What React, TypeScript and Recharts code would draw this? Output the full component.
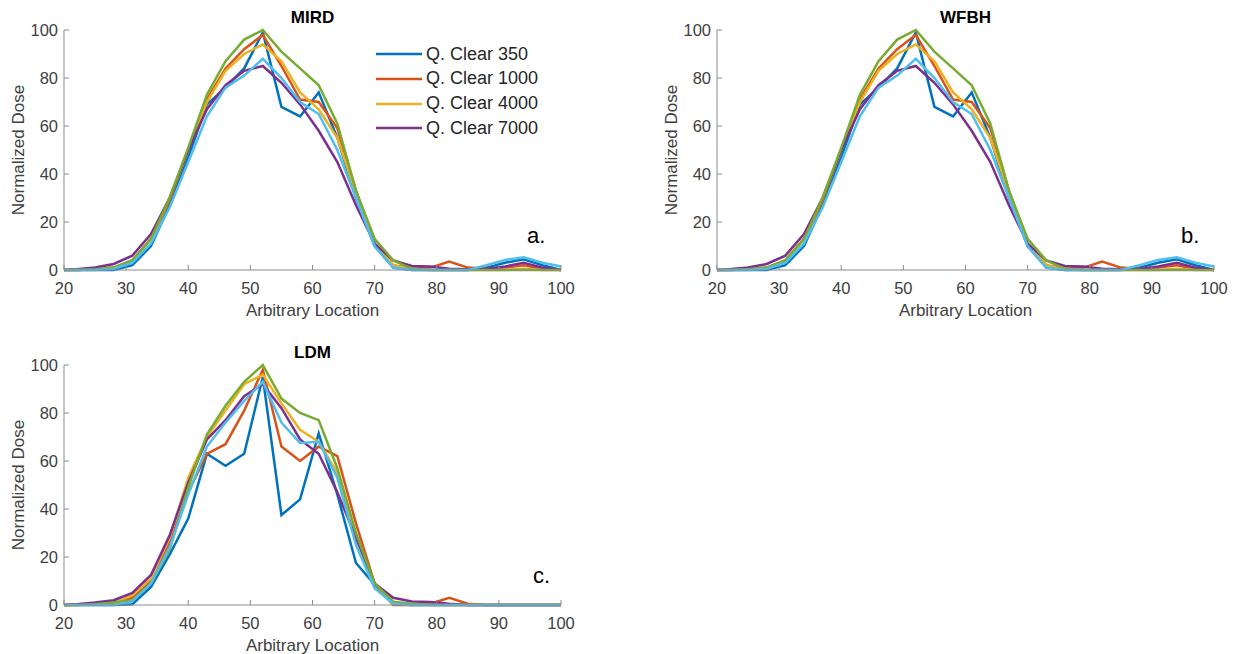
import { LineChart, Line, XAxis, YAxis, Legend } from 'recharts'

const FONT = '"Liberation Sans", Arial, Helvetica, sans-serif'
const AXIS_GRAY = '#8c8c8c'
const TEXT_GRAY = '#404040'

// sample locations (x axis)
const xLocations = [20, 22, 25, 28, 31, 34, 37, 40, 43, 46, 49, 52, 55, 58, 61, 64, 67, 70, 73, 76, 79, 82, 85, 88, 91, 94, 97, 100]
const xTicks = [20, 30, 40, 50, 60, 70, 80, 90, 100]
const yTicks = [0, 20, 40, 60, 80, 100]

// MIRD
const mirdBlue = [0, 0, 0, 0, 2, 10, 27, 47, 69, 76, 84, 99, 68, 64, 74, 55, 30, 10, 1, 0, 0, 0, 0, 1, 3, 4.5, 2, 0]
const mirdOrange = [0, 0, 0.3, 1, 4, 13, 29, 50, 71, 84, 92, 98, 85, 71, 70, 59, 33, 11, 2, 0.5, 1, 3.5, 1, 0.5, 1, 2, 0.5, 0]
const mirdYellow = [0, 0, 0.3, 1, 4, 13, 30, 50, 70, 83, 90, 94, 87, 74, 67, 55, 32, 11, 2, 0.3, 0, 0, 0, 0, 0, 0.5, 0, 0]
const mirdPurple = [0, 0.3, 1, 2.5, 6, 15, 30, 50, 67, 77, 83, 85, 78, 69, 58, 45, 27, 11, 4, 1.7, 1.5, 0.5, 0.3, 0.5, 1.5, 3, 1, 0]
const mirdGreen = [0, 0, 0.3, 1, 4, 13, 30, 51, 73, 87, 96, 100, 91, 84, 77, 61, 33, 13, 4, 0.5, 0, 0, 0, 0, 0, 0, 0, 0]
const mirdLightBlue = [0, 0, 0, 0.5, 3, 11, 26, 45, 64, 76, 81, 88, 80, 70, 65, 50, 30, 10, 1, 0, 0, 0, 0, 2, 4.2, 5.3, 3, 1.5]

// WFBH
const wfbhBlue = [0, 0, 0, 0, 2, 10, 27, 47, 69, 76, 84, 99, 68, 64, 74, 55, 30, 10, 1, 0, 0, 0, 0, 1, 3, 4.5, 2, 0]
const wfbhOrange = [0, 0, 0.3, 1, 4, 13, 29, 50, 71, 84, 92, 98, 85, 71, 70, 59, 33, 11, 2, 0.5, 1, 3.5, 1, 0.5, 1, 2, 0.5, 0]
const wfbhYellow = [0, 0, 0.3, 1, 4, 13, 30, 50, 70, 83, 90, 94, 87, 74, 67, 55, 32, 11, 2, 0.3, 0, 0, 0, 0, 0, 0.5, 0, 0]
const wfbhPurple = [0, 0.3, 1, 2.5, 6, 15, 30, 50, 67, 77, 83, 85, 78, 69, 58, 45, 27, 11, 4, 1.7, 1.5, 0.5, 0.3, 0.5, 1.5, 3, 1, 0]
const wfbhGreen = [0, 0, 0.3, 1, 4, 13, 30, 51, 73, 87, 96, 100, 91, 84, 77, 61, 33, 13, 4, 0.5, 0, 0, 0, 0, 0, 0, 0, 0]
const wfbhLightBlue = [0, 0, 0, 0.5, 3, 11, 26, 45, 64, 76, 81, 88, 80, 70, 65, 50, 30, 10, 1, 0, 0, 0, 0, 2, 4.2, 5.3, 3, 1.5]

// LDM
const ldmBlue = [0, 0, 0, 0, 0.3, 7.5, 21, 36, 63, 58, 63, 95, 37.5, 44, 71.5, 46, 17.5, 8.5, 0.5, 0, 0, 0, 0, 0, 0, 0, 0, 0]
const ldmOrange = [0, 0, 0.3, 1, 3, 10, 26, 47, 63, 67, 81, 98, 66, 60, 66, 62, 34, 9, 0, 0, 0.5, 3, 0.5, 0, 0, 0, 0, 0]
const ldmYellow = [0, 0, 0.5, 1, 4, 11, 28, 53, 70, 81, 92, 96, 84, 73, 68, 55, 28, 9, 1, 0, 0, 0, 0, 0, 0, 0, 0, 0]
const ldmPurple = [0, 0.3, 1, 2, 5, 12.5, 29, 51, 69, 77, 87, 92, 82, 69, 63, 47, 28, 9, 3, 1.5, 1.2, 0.5, 0, 0, 0, 0, 0, 0]
const ldmGreen = [0, 0, 0.3, 1, 2, 9, 23, 49, 71, 83, 93, 100, 86, 80, 77, 57, 30, 9, 1.4, 0.5, 0, 0, 0, 0, 0, 0, 0, 0]
const ldmLightBlue = [0, 0, 0, 0, 1.5, 9, 24, 46, 66, 76, 85, 93, 76, 67.5, 68, 53, 25, 7, 0.5, 0, 0, 0, 0, 0, 0, 0, 0, 0]

const SERIES = [
  { key: 'blue', name: 'Q. Clear 350', color: '#0072BD', legend: true },
  { key: 'orange', name: 'Q. Clear 1000', color: '#D95319', legend: true },
  { key: 'yellow', name: 'Q. Clear 4000', color: '#EDB120', legend: true },
  { key: 'purple', name: 'Q. Clear 7000', color: '#7E2F8E', legend: true },
  { key: 'green', name: 'Series 5', color: '#77AC30', legend: false },
  { key: 'lightBlue', name: 'Series 6', color: '#4DBEEE', legend: false },
]

function XTick(props: any) {
  const { x, y, payload } = props
  return (
    <g>
      <line x1={x} x2={x} y1={y - 12} y2={y - 17} stroke={AXIS_GRAY} />
      <text x={x} y={y} dy="0.71em" textAnchor="middle" fill={TEXT_GRAY} fontSize={16.5} fontFamily={FONT}>
        {payload.value}
      </text>
    </g>
  )
}

function YTick(props: any) {
  const { x, y, payload } = props
  return (
    <g>
      <line x1={x + 6} x2={x + 11} y1={y} y2={y} stroke={AXIS_GRAY} />
      <text x={x} y={y} dy="0.355em" textAnchor="end" fill={TEXT_GRAY} fontSize={16.5} fontFamily={FONT}>
        {payload.value}
      </text>
    </g>
  )
}

function renderLegend(props: any) {
  const order = SERIES.map(s => s.name)
  const items = (props.payload ?? [])
    .filter((e: any) => e.type !== 'none')
    .sort((a: any, b: any) => order.indexOf(a.value) - order.indexOf(b.value))
  return (
    <div style={{ fontFamily: FONT, fontSize: 18, color: '#262626' }}>
      {items.map((e: any) => (
        <div key={e.value} style={{ display: 'flex', alignItems: 'center', height: 24.67 }}>
          <svg width={46} height={6} style={{ marginRight: 4 }}>
            <line x1={0} x2={46} y1={3} y2={3} stroke={e.color} strokeWidth={2.5} />
          </svg>
          <span>{e.value}</span>
        </div>
      ))}
    </div>
  )
}

type PanelProps = {
  left: number
  top: number
  series: Record<string, number[]>
  showLegend?: boolean
}

function DosePanel({ left, top, series, showLegend }: PanelProps) {
  const rows = xLocations.map((x, i) => {
    const row: Record<string, number> = { x }
    SERIES.forEach(s => { row[s.key] = series[s.key][i] })
    return row
  })

  return (
    <div style={{ position: 'absolute', left, top }}>
      <LineChart width={600} height={330} data={rows} margin={{ top: 30, right: 39, bottom: 14, left: 12 }}>
        <XAxis
          type="number"
          dataKey="x"
          domain={[20, 100]}
          ticks={xTicks}
          height={46}
          stroke={AXIS_GRAY}
          tickLine={false}
          tickSize={0}
          tickMargin={12}
          tick={(p: any) => <XTick {...p} />}
          label={{ value: 'Arbitrary Location', position: 'insideBottom', offset: 0, fill: TEXT_GRAY, fontSize: 17, fontFamily: FONT }}
        />
        <YAxis
          type="number"
          domain={[0, 100]}
          ticks={yTicks}
          width={52}
          stroke={AXIS_GRAY}
          tickLine={false}
          tickSize={0}
          tickMargin={6}
          tick={(p: any) => <YTick {...p} />}
          label={{ value: 'Normalized Dose', angle: -90, position: 'insideLeft', offset: 5.5, fill: TEXT_GRAY, fontSize: 17, fontFamily: FONT, style: { textAnchor: 'middle' } }}
        />
        {showLegend && (
          <Legend
            layout="vertical"
            align="center"
            verticalAlign="middle"
            content={renderLegend}
            wrapperStyle={{ left: 376, top: 42, width: 190 }}
          />
        )}
        {SERIES.map(s => (
          <Line
            key={s.key}
            dataKey={s.key}
            name={s.name}
            stroke={s.color}
            strokeWidth={2.5}
            dot={false}
            type="linear"
            legendType={s.legend ? 'line' : 'none'}
            isAnimationActive={false}
          />
        ))}
      </LineChart>
    </div>
  )
}

export default function App() {
  return (
    <div style={{ position: 'absolute', left: 0, top: 0, width: 1234, height: 654, background: '#fff' }}>
      <DosePanel
        left={0}
        top={0}
        showLegend
        series={{ blue: mirdBlue, orange: mirdOrange, yellow: mirdYellow, purple: mirdPurple, green: mirdGreen, lightBlue: mirdLightBlue }}
      />
      <DosePanel
        left={653}
        top={0}
        series={{ blue: wfbhBlue, orange: wfbhOrange, yellow: wfbhYellow, purple: wfbhPurple, green: wfbhGreen, lightBlue: wfbhLightBlue }}
      />
      <DosePanel
        left={0}
        top={335}
        series={{ blue: ldmBlue, orange: ldmOrange, yellow: ldmYellow, purple: ldmPurple, green: ldmGreen, lightBlue: ldmLightBlue }}
      />
      <svg width={1234} height={654} style={{ position: 'absolute', left: 0, top: 0, pointerEvents: 'none' }}>
        <g fontFamily={FONT} fill="#000">
          <text x={312.5} y={23} textAnchor="middle" fontSize={17} fontWeight="bold">MIRD</text>
          <text x={965.5} y={23} textAnchor="middle" fontSize={17} fontWeight="bold">WFBH</text>
          <text x={312.5} y={358} textAnchor="middle" fontSize={17} fontWeight="bold">LDM</text>
        </g>
        <g fontFamily={FONT} fill="#000" fontSize={22}>
          <text x={527} y={243}>a.</text>
          <text x={1181} y={243}>b.</text>
          <text x={533} y={583}>c.</text>
        </g>
      </svg>
    </div>
  )
}
